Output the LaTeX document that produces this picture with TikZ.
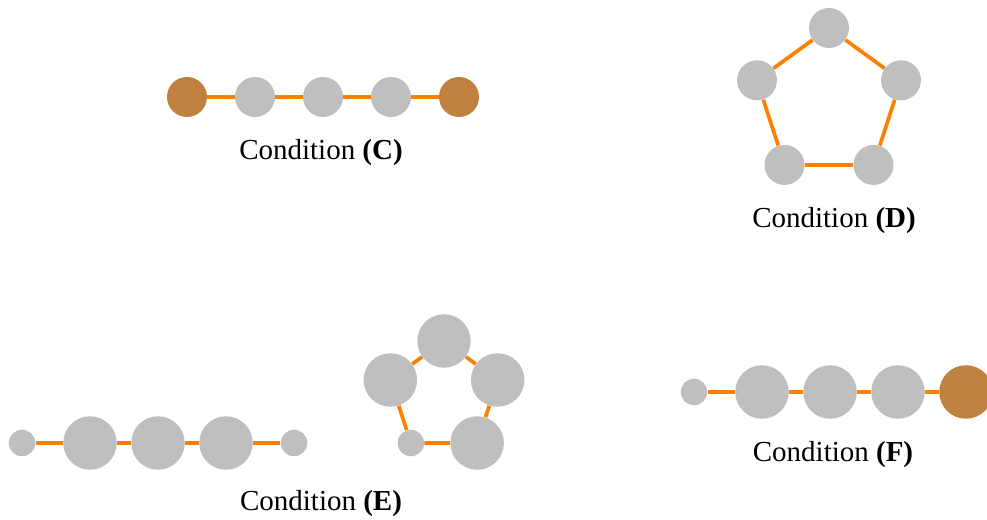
\documentclass[tikz,border=0pt]{standalone}
\usepackage{fontspec}
\setmainfont{Liberation Serif}
\usepackage{tkz-euclide}
\definecolor{ballgray}{RGB}{191,191,191}
\definecolor{endbrown}{RGB}{191,128,64}
\definecolor{bondorange}{RGB}{255,128,0}
\tikzset{
  ball/.style={circle,fill=ballgray,inner sep=0pt,minimum size=0.8cm},
  smallball/.style={ball,minimum size=0.53cm},
  bigball/.style={ball,minimum size=1.07cm},
  endball/.style={fill=endbrown},
  bond/.style={draw=bondorange,line width=2.1pt},
  caption/.style={font=\fontsize{16.5}{20}\selectfont}
}
\begin{document}
\begin{tikzpicture}
                \useasboundingbox (0,0) rectangle (19.74,10.40);
                \tkzDefPoints{3.74/8.46/C1,5.10/8.46/C2,6.46/8.46/C3,7.82/8.46/C4,9.18/8.46/C5}
                \tkzDefPoints{0.44/1.54/E1,1.80/1.54/E2,3.16/1.54/E3,4.52/1.54/E4,5.88/1.54/E5}
                \tkzDefPoints{13.88/2.56/F1,15.24/2.56/F2,16.60/2.56/F3,17.96/2.56/F4,19.32/2.56/F5}
                \tkzDefPoints{16.58/8.326/O,16.58/9.84/D1,8.88/2.452/Q,8.88/3.58/P1}
                \tkzDefPointBy[rotation = center O angle 72](D1) \tkzGetPoint{D2}
                \tkzDefPointBy[rotation = center O angle 72](D2) \tkzGetPoint{D3}
                \tkzDefPointBy[rotation = center O angle 72](D3) \tkzGetPoint{D4}
                \tkzDefPointBy[rotation = center O angle 72](D4) \tkzGetPoint{D5}
                \tkzDefPointBy[rotation = center Q angle 72](P1) \tkzGetPoint{P2}
                \tkzDefPointBy[rotation = center Q angle 72](P2) \tkzGetPoint{P3}
                \tkzDefPointBy[rotation = center Q angle 72](P3) \tkzGetPoint{P4}
                \tkzDefPointBy[rotation = center Q angle 72](P4) \tkzGetPoint{P5}
                \node[ball,endball] (c1) at (C1) {};
                \node[ball] (c2) at (C2) {};
                \node[ball] (c3) at (C3) {};
                \node[ball] (c4) at (C4) {};
                \node[ball,endball] (c5) at (C5) {};
                \node[ball] (d1) at (D1) {};
                \node[ball] (d2) at (D2) {};
                \node[ball] (d3) at (D3) {};
                \node[ball] (d4) at (D4) {};
                \node[ball] (d5) at (D5) {};
                \node[smallball] (e1) at (E1) {};
                \node[bigball] (e2) at (E2) {};
                \node[bigball] (e3) at (E3) {};
                \node[bigball] (e4) at (E4) {};
                \node[smallball] (e5) at (E5) {};
                \node[bigball] (p1) at (P1) {};
                \node[bigball] (p2) at (P2) {};
                \node[smallball] (p3) at (P3) {};
                \node[bigball] (p4) at (P4) {};
                \node[bigball] (p5) at (P5) {};
                \node[smallball] (f1) at (F1) {};
                \node[bigball] (f2) at (F2) {};
                \node[bigball] (f3) at (F3) {};
                \node[bigball] (f4) at (F4) {};
                \node[bigball,endball] (f5) at (F5) {};
                \draw[bond] (c1) -- (c2) -- (c3) -- (c4) -- (c5);
                \draw[bond] (d1) -- (d2) -- (d3) -- (d4) -- (d5) -- (d1);
                \draw[bond] (e1) -- (e2) -- (e3) -- (e4) -- (e5);
                \draw[bond] (p1) -- (p2) -- (p3) -- (p4) -- (p5) -- (p1);
                \draw[bond] (f1) -- (f2) -- (f3) -- (f4) -- (f5);
                \node[caption] (capC) at (6.42,7.35) {Condition \textbf{(C)}};
                \node[caption] (capD) at (16.68,5.99) {Condition \textbf{(D)}};
                \node[caption] (capE) at (6.42,0.33) {Condition \textbf{(E)}};
                \node[caption] (capF) at (16.66,1.31) {Condition \textbf{(F)}};
\end{tikzpicture}
\end{document}
